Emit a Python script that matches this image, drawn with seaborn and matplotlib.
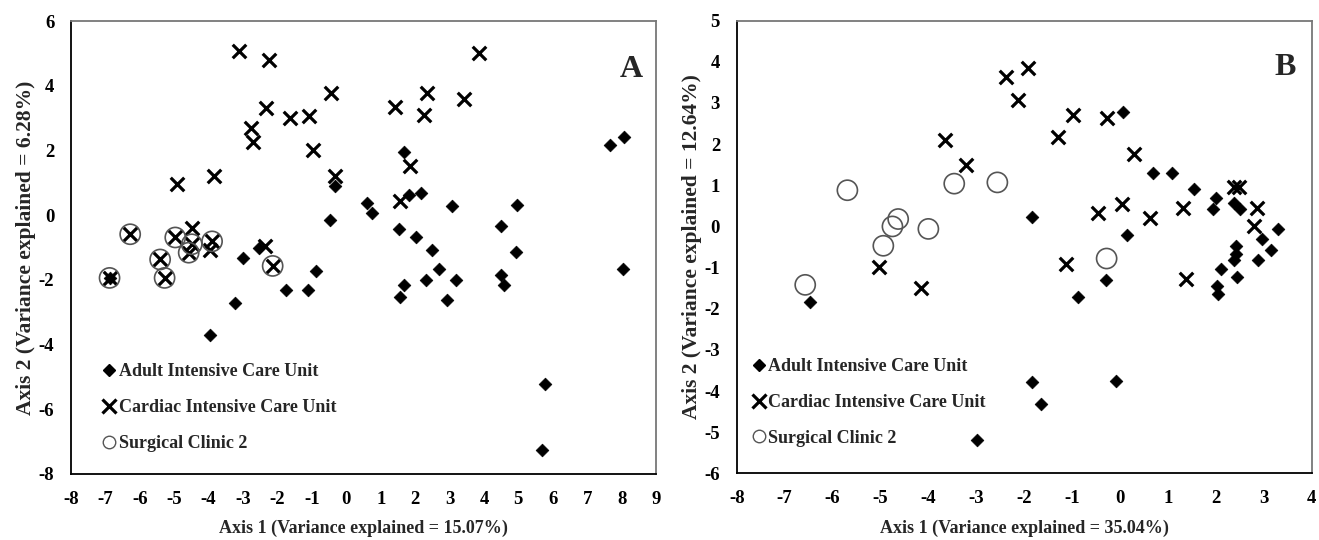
import matplotlib
matplotlib.use("Agg")
import matplotlib.pyplot as plt
from matplotlib.lines import Line2D
import seaborn as sns
import pandas as pd

# Panel A (Axis 1 = 15.07%, Axis 2 = 6.28%)
a_adult_x = [-6.88, -3.01, -2.53, -3.23, -3.95, -1.74, -1.12, -0.87, -0.32, -0.47,
             0.60, 0.75, 1.67, 1.81, 2.18, 3.08, 1.52, 2.03, 2.49, 2.69,
             2.33, 3.19, 1.67, 1.57, 2.93, 4.96, 4.49, 4.94, 4.49, 4.59,
             7.67, 8.08, 8.04, 5.76, 5.70]
a_adult_y = [-1.94, -1.32, -1.02, -2.71, -3.70, -2.30, -2.30, -1.73, 0.91, -0.16,
             0.36, 0.08, 1.94, 0.63, 0.68, 0.29, -0.43, -0.67, -1.08, -1.66,
             -1.99, -1.99, -2.16, -2.54, -2.61, 0.32, -0.33, -1.14, -1.85, -2.16,
             2.18, 2.41, -1.65, -5.22, -7.25]
a_cardiac_x = [-3.11, -2.26, -0.45, -2.33, -1.63, -1.07, -2.76, -2.72, -0.98, -3.84,
               -4.93, -0.34, -4.48, -6.28, -4.97, -4.49, -4.58, -3.90, -3.95, -2.35,
               -5.41, -5.28, -6.88, -2.14, 3.87, 2.35, 1.42, 2.25, 3.41, 1.86, 1.57]
a_cardiac_y = [5.08, 4.79, 3.78, 3.32, 3.01, 3.05, 2.69, 2.25, 2.00, 1.22,
               0.95, 1.20, -0.40, -0.59, -0.69, -0.90, -1.16, -0.81, -1.09, -0.95,
               -1.37, -1.94, -1.94, -1.57, 5.00, 3.76, 3.34, 3.11, 3.58, 1.53, 0.44]
a_surgical_x = [-6.88, -6.28, -5.41, -5.28, -4.97, -4.49, -4.58, -3.90, -2.14]
a_surgical_y = [-1.94, -0.59, -1.37, -1.94, -0.69, -0.90, -1.16, -0.81, -1.57]

# Panel B (Axis 1 = 35.04%, Axis 2 = 12.64%)
b_adult_x = [0.07, 0.69, 1.08, 1.54, 2.00, 1.94, 2.37, 2.51, 3.29, 2.97,
             3.16, 2.87, 2.42, 2.41, 2.37, 2.10, 2.44, 2.03, 2.05, 0.15,
             -1.84, -0.29, -0.87, -6.47, -1.83, -1.64, -2.98, -0.08]
b_adult_y = [2.78, 1.29, 1.31, 0.91, 0.69, 0.42, 0.57, 0.42, -0.06, -0.31,
             -0.57, -0.82, -0.47, -0.67, -0.82, -1.03, -1.22, -1.46, -1.64, -0.21,
             0.24, -1.30, -1.71, -1.84, -3.79, -4.31, -5.18, -3.75]
b_cardiac_x = [-3.66, -3.22, -2.37, -1.93, -2.12, -0.99, -1.29, -0.27, 0.29, 2.37,
               2.48, 2.85, 2.80, 1.37, -0.46, 0.05, 0.62, 1.32, -1.13, -5.02, -4.16]
b_cardiac_y = [2.10, 1.50, 3.64, 3.86, 3.08, 2.70, 2.18, 2.63, 1.77, 0.96,
               0.96, 0.45, 0.02, -1.28, 0.32, 0.54, 0.20, 0.46, -0.91, -0.98, -1.50]
b_surgical_x = [-5.69, -3.46, -2.56, -4.63, -4.75, -4.00, -4.94, -6.57, -0.28]
b_surgical_y = [0.88, 1.04, 1.07, 0.18, 0.00, -0.06, -0.47, -1.42, -0.78]

groups = ["Adult Intensive Care Unit", "Cardiac Intensive Care Unit", "Surgical Clinic 2"]

sns.set_theme(style="white")
plt.rcParams["font.family"] = ["Liberation Serif", "DejaVu Serif"]
plt.rcParams["font.weight"] = "bold"
plt.rcParams["axes.labelweight"] = "bold"
plt.rcParams["axes.unicode_minus"] = False


def make_frame(xa, ya, xc, yc, xs, ys):
    df = pd.concat([
        pd.DataFrame({"x": xa, "y": ya, "unit": groups[0]}),
        pd.DataFrame({"x": xc, "y": yc, "unit": groups[1]}),
        pd.DataFrame({"x": xs, "y": ys, "unit": groups[2]}),
    ], ignore_index=True)
    return df


def draw_panel(ax, df, xlim, ylim, xticks, yticks, xlabel, ylabel, letter,
               letter_pos, leg_pos):
    adult = df[df["unit"] == groups[0]]
    cardiac = df[df["unit"] == groups[1]]
    surgical = df[df["unit"] == groups[2]]
    sns.scatterplot(data=adult, x="x", y="y", marker="D", s=42, color="black",
                    edgecolor="black", linewidth=0.5, ax=ax, legend=False, zorder=3)
    sns.scatterplot(data=cardiac, x="x", y="y", marker="x", s=95, color="black",
                    linewidth=2.3, ax=ax, legend=False, zorder=4)
    sns.scatterplot(data=surgical, x="x", y="y", marker="o", s=210, facecolor="none",
                    edgecolor="#555555", linewidth=1.2, ax=ax, legend=False, zorder=5)

    ax.set_xlim(*xlim)
    ax.set_ylim(*ylim)
    ax.set_xticks(xticks)
    ax.set_yticks(yticks)
    ax.tick_params(direction="inout", length=10, width=1.2, colors="black",
                   labelsize=13.5, pad=7)
    for lab in ax.get_xticklabels() + ax.get_yticklabels():
        lab.set_fontweight("bold")
    for side in ["left", "bottom"]:
        ax.spines[side].set_color("black")
        ax.spines[side].set_linewidth(1.3)
    for side in ["top", "right"]:
        ax.spines[side].set_color("#777777")
        ax.spines[side].set_linewidth(1.3)
    ax.set_xlabel(xlabel, fontsize=13, fontweight="bold", labelpad=9)
    ax.set_ylabel(ylabel, fontsize=15.5, fontweight="bold", labelpad=2)
    ax.text(letter_pos[0], letter_pos[1], letter, transform=ax.transAxes,
            ha="right", va="top", fontsize=23, fontweight="bold")

    handles = [
        Line2D([], [], linestyle="none", marker="D", markersize=6, color="black"),
        Line2D([], [], linestyle="none", marker="x", markersize=10, color="black",
               markeredgewidth=2.3),
        Line2D([], [], linestyle="none", marker="o", markersize=9,
               markerfacecolor="none", markeredgecolor="#555555", markeredgewidth=1),
    ]
    ax.legend(handles, groups, loc="upper left", bbox_to_anchor=leg_pos,
              frameon=False, borderaxespad=0, borderpad=0, handlelength=0.7,
              handletextpad=0.15, labelspacing=1.05,
              prop={"size": 13, "weight": "bold"})


fig = plt.figure(figsize=(13.19, 5.4), dpi=100)
ax_a = fig.add_axes([71 / 1319, 66 / 540, 585 / 1319, 453 / 540])
ax_b = fig.add_axes([736.7 / 1319, 66.7 / 540, 575 / 1319, 452.6 / 540])

df_a = make_frame(a_adult_x, a_adult_y, a_cardiac_x, a_cardiac_y, a_surgical_x, a_surgical_y)
df_b = make_frame(b_adult_x, b_adult_y, b_cardiac_x, b_cardiac_y, b_surgical_x, b_surgical_y)

draw_panel(ax_a, df_a, (-8, 9), (-8, 6), range(-8, 10), range(-8, 7, 2),
           "Axis 1 (Variance explained = 15.07%)",
           "Axis 2 (Variance explained = 6.28%)", "A", (0.978, 0.925), (0.055, 0.245))
draw_panel(ax_b, df_b, (-8, 4), (-6, 5), range(-8, 5), range(-6, 6),
           "Axis 1 (Variance explained = 35.04%)",
           "Axis 2 (Variance explained = 12.64%)", "B", (0.972, 0.929), (0.028, 0.255))

fig.savefig("out.png", dpi=100)
